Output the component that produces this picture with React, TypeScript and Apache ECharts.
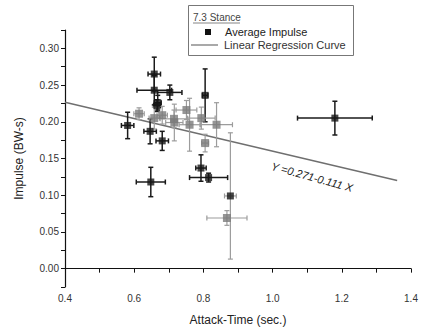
import React, { useEffect, useRef } from "react";
import * as echarts from "echarts";

// Attack-time (s), impulse (BW-s) and their errors
const attackTime = [0.658, 0.658, 0.703, 0.805, 0.668, 0.666, 1.180, 0.614, 0.581, 0.646, 0.681, 0.658, 0.681, 0.715, 0.716, 0.751, 0.760, 0.794, 0.805, 0.838, 0.793, 0.815, 0.648, 0.878, 0.868];
const impulse = [0.265, 0.243, 0.240, 0.236, 0.226, 0.222, 0.205, 0.211, 0.195, 0.187, 0.174, 0.205, 0.209, 0.204, 0.199, 0.216, 0.196, 0.205, 0.171, 0.196, 0.137, 0.124, 0.118, 0.099, 0.069];
const attackErr = [0.018, 0.050, 0.035, 0.008, 0.010, 0.010, 0.108, 0.015, 0.018, 0.018, 0.018, 0.015, 0.015, 0.040, 0.025, 0.030, 0.030, 0.040, 0.010, 0.046, 0.015, 0.055, 0.042, 0.017, 0.058];
const impulseErr = [0.023, 0.020, 0.010, 0.036, 0.010, 0.008, 0.023, 0.008, 0.018, 0.017, 0.013, 0.015, 0.012, 0.012, 0.025, 0.013, 0.036, 0.015, 0.012, 0.030, 0.018, 0.006, 0.020, 0.086, 0.010];
const markerDark = [1, 1, 1, 1, 1, 1, 1, 0, 1, 1, 1, 0, 0, 0, 0, 0, 0, 0, 0, 0, 1, 1, 1, 1, 0];
const barDark = [1, 1, 1, 1, 1, 1, 1, 0, 1, 1, 1, 0, 0, 0, 0, 0, 0, 0, 0, 0, 1, 1, 1, 0, 0];

// Regression: Y = 0.271 - 0.111 X
const intercept = 0.271;
const slope = -0.111;
const fitRange = [0.4, 1.36];

const xTickLabels = ["0.4", "0.6", "0.8", "1.0", "1.2", "1.4"];
const yTickLabels = ["0.00", "0.05", "0.10", "0.15", "0.20", "0.25", "0.30"];

export default function App() {
  const ref = useRef<HTMLDivElement>(null);
  useEffect(() => {
    document.body.style.margin = "0";
    const chart = echarts.init(ref.current!, null, { renderer: "svg" });
    const font = "Liberation Sans, Arial, sans-serif";
    const errData = attackTime.map((x, i) => [x, impulse[i], attackErr[i], impulseErr[i], barDark[i]]);
    const ptData = attackTime.map((x, i) => ({
      value: [x, impulse[i]],
      symbolSize: markerDark[i] ? 7 : 8,
      itemStyle: { color: markerDark[i] ? "#151515" : "#7a7a7a" },
    }));
    const fitData = fitRange.map((x) => [x, intercept + slope * x]);
    chart.setOption({
      animation: false,
      grid: { left: 65, right: 18, top: 30, bottom: 47 },
      xAxis: {
        type: "value",
        min: 0.4,
        max: 1.4,
        interval: 0.1,
        splitLine: { show: false },
        axisLine: { lineStyle: { color: "#111", width: 1.2 } },
        axisTick: { inside: false, length: 4, lineStyle: { color: "#111" } },
        axisLabel: {
          color: "#333",
          fontFamily: font,
          fontSize: 10,
          margin: 6,
          formatter: (v: number) => {
            const s = v.toFixed(1);
            return xTickLabels.includes(s) ? s : "";
          },
        },
        name: "Attack-Time (sec.)",
        nameLocation: "middle",
        nameGap: 27,
        nameTextStyle: { color: "#222", fontFamily: font, fontSize: 12 },
      },
      yAxis: {
        type: "value",
        min: -0.025,
        max: 0.325,
        interval: 0.025,
        splitLine: { show: false },
        axisLine: { show: true, lineStyle: { color: "#111", width: 1.2 } },
        axisTick: { show: true, length: 4, lineStyle: { color: "#111" } },
        axisLabel: {
          color: "#333",
          fontFamily: font,
          fontSize: 10,
          margin: 6,
          formatter: (v: number) => {
            const s = v.toFixed(2);
            return yTickLabels.includes(s) && Math.abs(v - parseFloat(s)) < 1e-6 ? s : "";
          },
        },
        name: "Impulse (BW-s)",
        nameLocation: "middle",
        nameGap: 40,
        nameTextStyle: { color: "#222", fontFamily: font, fontSize: 12 },
      },
      series: [
        {
          type: "line",
          data: fitData,
          symbol: "none",
          lineStyle: { color: "#6f6f6f", width: 1.4 },
          z: 1,
        },
        {
          type: "custom",
          data: errData,
          z: 2,
          renderItem: (params: any, api: any) => {
            const x = api.value(0), y = api.value(1), ex = api.value(2), ey = api.value(3), dark = api.value(4);
            const l = api.coord([x - ex, y]);
            const r = api.coord([x + ex, y]);
            const t = api.coord([x, y + ey]);
            const b = api.coord([x, y - ey]);
            const style = { stroke: dark ? "#1a1a1a" : "#9c9c9c", lineWidth: dark ? 1.5 : 1.2 };
            const cap = 2.5;
            const ln = (x1: number, y1: number, x2: number, y2: number) => ({ type: "line", shape: { x1, y1, x2, y2 }, style });
            return {
              type: "group",
              children: [
                ln(l[0], l[1], r[0], r[1]),
                ln(t[0], t[1], b[0], b[1]),
                ln(l[0], l[1] - cap, l[0], l[1] + cap),
                ln(r[0], r[1] - cap, r[0], r[1] + cap),
                ln(t[0] - cap, t[1], t[0] + cap, t[1]),
                ln(b[0] - cap, b[1], b[0] + cap, b[1]),
              ],
            };
          },
        },
        {
          type: "scatter",
          symbol: "rect",
          data: ptData,
          z: 3,
        },
      ],
      graphic: [
        { type: "rect", shape: { x: 188.5, y: 5.5, width: 165, height: 50 }, style: { fill: "#fff", stroke: "#777", lineWidth: 1 }, z: 10 },
        { type: "text", x: 193, y: 12, style: { text: "7.3 Stance", fill: "#444", font: `10px ${font}` }, z: 11 },
        { type: "line", shape: { x1: 193, y1: 23, x2: 240, y2: 23 }, style: { stroke: "#666", lineWidth: 0.8 }, z: 11 },
        { type: "rect", shape: { x: 205, y: 29, width: 6, height: 6 }, style: { fill: "#111" }, z: 11 },
        { type: "text", x: 225, y: 26, style: { text: "Average Impulse", fill: "#222", font: `11px ${font}` }, z: 11 },
        { type: "line", shape: { x1: 191, y1: 45, x2: 218, y2: 45 }, style: { stroke: "#6f6f6f", lineWidth: 1.2 }, z: 11 },
        { type: "text", x: 224, y: 39, style: { text: "Linear Regression Curve", fill: "#333", font: `11px ${font}` }, z: 11 },
        {
          type: "text",
          x: 312,
          y: 177,
          rotation: -0.27,
          style: { text: "Y =0.271-0.111 X", fill: "#222", font: `italic 11px ${font}`, align: "center", verticalAlign: "middle" },
          z: 11,
        },
      ],
    });
    return () => chart.dispose();
  }, []);
  return <div ref={ref} style={{ width: 429, height: 334 }} />;
}
